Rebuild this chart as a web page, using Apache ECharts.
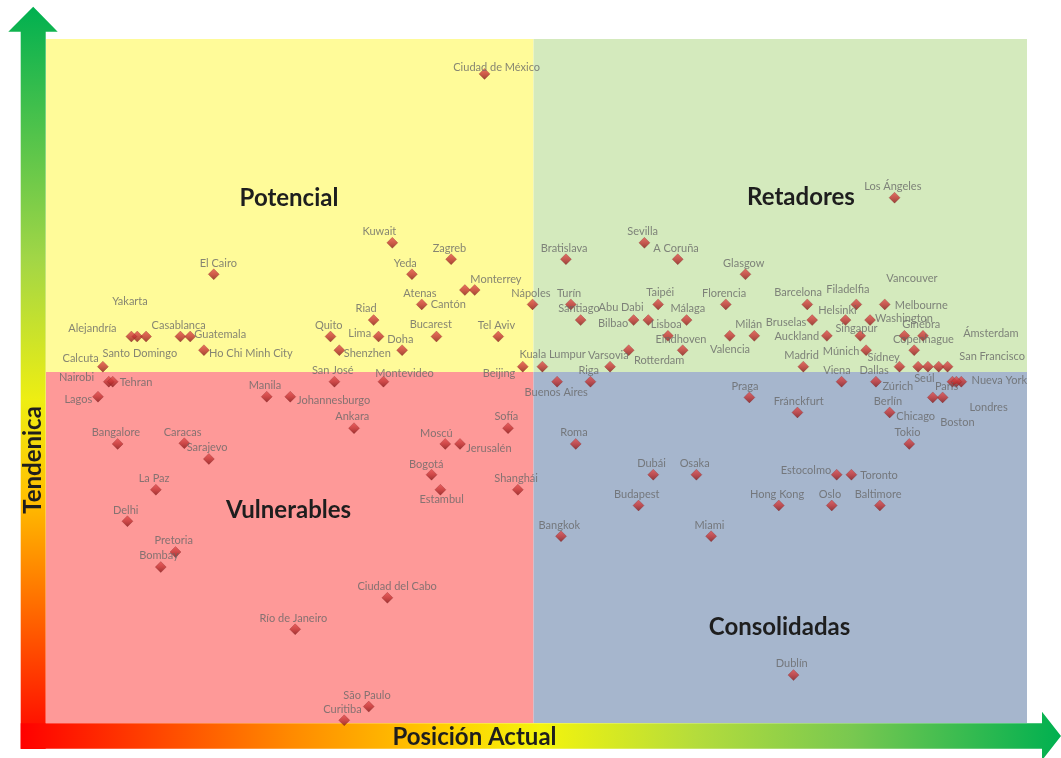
<!DOCTYPE html>
<html><head><meta charset="utf-8">
<script src="https://cdn.jsdelivr.net/npm/echarts/dist/echarts.min.js"></script>
<style>html,body{margin:0;padding:0;background:#fff}#c{width:1061px;height:758px}</style>
</head><body><div id="c"></div>
<script>
// ---------- DATA ----------
const cities = ['Ciudad de México','Kuwait','Zagreb','El Cairo','Yeda','Monterrey','Cantón','Atenas','Nápoles','Riad',
'Quito','Lima','Bucarest','Tel Aviv','Shenzhen','Doha','Beijing','Kuala Lumpur','Yakarta','Alejandría',
'Santo Domingo','Casablanca','Guatemala','Ho Chi Minh City','Calcuta','Nairobi','Tehran','Lagos','Manila','Johannesburgo',
'San José','Montevideo','Ankara','Sofía','Moscú','Jerusalén','Bogotá','Estambul','Shanghái','Bangalore',
'Caracas','Sarajevo','La Paz','Delhi','Pretoria','Bombay','Río de Janeiro','Ciudad del Cabo','São Paulo','Curitiba',
'Los Ángeles','Sevilla','Bratislava','A Coruña','Glasgow','Turín','Santiago','Bilbao','Abu Dabi','Taipéi',
'Málaga','Lisboa','Eindhoven','Rotterdam','Varsovia','Florencia','Milán','Valencia','Barcelona','Filadelfia',
'Bruselas','Helsinki','Washington','Auckland','Singapur','Múnich','Madrid','Melbourne','Vancouver','Ginebra',
'Copenhague','Ámsterdam','Sídney','San Francisco','Seúl','Viena','Dallas','Zúrich','Nueva York','París',
'Londres','Boston','Berlín','Chicago','Tokio','Praga','Fránckfurt','Roma','Dubái','Osaka',
'Budapest','Hong Kong','Bangkok','Miami','Dublín','Estocolmo','Toronto','Oslo','Baltimore','Buenos Aires','Riga'];

const posicionActual = [44.7,35.3,41.3,17.1,37.3,43.7,42.7,38.3,49.6,33.4,
29.0,33.9,39.8,46.1,29.9,36.3,48.6,50.6,9.3,8.7,
10.2,13.7,14.7,16.1,5.8,6.4,6.8,5.3,22.5,24.9,
29.4,34.4,31.4,47.1,40.7,42.2,39.3,40.2,48.1,7.3,
14.1,16.6,11.2,8.3,13.2,11.7,25.4,34.8,32.9,30.4,
86.5,61.0,53.0,64.4,71.3,53.5,54.5,59.9,61.4,62.4,
65.3,63.4,64.9,59.4,57.5,69.3,72.2,69.7,77.6,82.6,
78.1,81.5,84.0,79.6,83.0,83.6,77.2,85.5,87.5,89.4,
88.5,91.0,87.0,91.9,89.9,81.1,84.6,88.9,93.3,92.4,
92.8,91.4,86.0,90.4,88.0,71.7,76.6,54.0,61.9,66.3,
60.4,74.7,52.5,67.8,76.2,80.6,82.1,80.1,85.0,52.1,55.5];

const tendencia = [94.9,70.2,67.8,65.6,65.6,63.3,63.3,61.2,61.2,58.9,
56.5,56.5,56.5,56.5,54.5,54.5,52.1,52.1,56.5,56.5,
56.5,56.5,56.5,54.5,52.1,49.9,49.9,47.7,47.7,47.7,
49.9,49.9,43.1,43.1,40.8,40.8,36.3,34.1,34.1,40.8,
40.9,38.6,34.1,29.5,25.0,22.8,13.7,18.3,2.4,0.4,
76.8,70.2,67.8,67.8,65.6,61.2,58.9,58.9,58.9,61.2,
58.9,56.6,54.5,54.5,52.1,61.2,56.6,56.6,61.2,61.2,
58.9,58.9,58.9,56.6,56.6,54.5,52.1,61.2,56.6,56.6,
54.5,52.1,52.1,52.1,52.1,49.9,49.9,52.1,49.9,49.9,
49.9,47.6,45.4,47.6,40.8,47.6,45.4,40.8,36.3,36.3,
31.8,31.8,27.3,27.3,7.0,36.3,36.3,31.8,31.8,49.9,49.9];

const xSplit = 49.7, ySplit = 51.3;
const quadrantNames = ['Potencial','Retadores','Vulnerables','Consolidadas'];
const xTitle = 'Posición Actual';
const yTitle = 'Tendenica';

// ---------- STYLE ----------
const SYM = 11;
const DEF = [-1.5,-11];
const labelShift = {
'Ciudad de México':[12.4,-5.7],'Kuwait':[-12.7,-11],'El Cairo':[4.8,-11],'Yeda':[-6.4,-11],'Monterrey':[21.5,-10.7],
'Cantón':[-16.4,14.3],'Riad':[-7.3,-11],'Lima':[-18.6,-2.7],'Bucarest':[-5.4,-11.4],'Shenzhen':[28.2,3.6],
'Beijing':[-23.5,6.6],'Kuala Lumpur':[10.5,-12],'Yakarta':[-7,-35],'Alejandría':[-38.7,-7.4],'Santo Domingo':[-6,17.6],
'Guatemala':[30.3,-1.4],'Ho Chi Minh City':[47.2,3.6],'Calcuta':[-22,-7.7],'Nairobi':[-32,-4],'Tehran':[23.5,1],
'Lagos':[-19.4,2.7],'Johannesburgo':[43.6,4],'Montevideo':[21.3,-8],'Moscú':[-8.7,-10.7],'Jerusalén':[29.2,4.3],
'Bogotá':[-5,-10.4],'Estambul':[1.5,10],'Ciudad del Cabo':[10,-11],'Bilbao':[-20.2,3.7],'Abu Dabi':[-27,-12],
'Taipéi':[2.3,-11.7],'Málaga':[1.5,-11],'Rotterdam':[30.7,10.6],'Milán':[-5.3,-10.7],'Valencia':[0.5,14],
'Barcelona':[-8.9,-11.7],'Filadelfia':[-8.2,-14.7],'Bruselas':[-25.8,2.7],'Helsinki':[-7.8,-9.3],'Washington':[34.2,-1],
'Auckland':[-29.8,1.3],'Singapur':[-3.5,-6.7],'Múnich':[-24.8,1.3],'Melbourne':[36.8,1],'Vancouver':[7.8,-56.7],
'Copenhague':[9.5,-10.4],'Ámsterdam':[52.4,-32.7],'Sídney':[-15.6,-9.4],'San Francisco':[44.8,-10.4],'Seúl':[-3.3,12.3],
'Viena':[-4.4,-11.3],'Zúrich':[-20.1,20.3],'Nueva York':[38.3,-1.3],'París':[-5.6,5.4],'Londres':[32.5,26],
'Boston':[15.1,25.6],'Chicago':[-16.9,19.3],'Praga':[-4.2,-10.4],'Fránckfurt':[1.5,-10.7],'Estocolmo':[-30.5,-4],
'Toronto':[27.9,0.6],'Buenos Aires':[-0.7,10.7]
};

const G = {left:46, top:39, width:981, height:684};
const points = cities.map((n,i)=>{
  const s = labelShift[n] || DEF;
  return {
    name:n, value:[posicionActual[i], tendencia[i]],
    label:{position:[SYM/2 + s[0], SYM/2 + s[1]], align:'center', verticalAlign:'middle'}
  };
});

const vGrad = new echarts.graphic.LinearGradient(0,0,0,1,[
 {offset:0,color:'#00b050'},{offset:0.34,color:'#a2d646'},{offset:0.53,color:'#eeee12'},
 {offset:0.66,color:'#ffc000'},{offset:0.83,color:'#ff6000'},{offset:1,color:'#ff0000'}]);
const hGrad = new echarts.graphic.LinearGradient(0,0,1,0,[
 {offset:0,color:'#ff0000'},{offset:0.26,color:'#ff8a00'},{offset:0.41,color:'#ffd000'},
 {offset:0.5,color:'#f4f40c'},{offset:0.65,color:'#b4dc3c'},{offset:0.8,color:'#78c850'},{offset:1,color:'#00b050'}]);

const titleFont = {fontFamily:'Lato', fontWeight:'bold', fontSize:24, fill:'#1e1e1e'};

const chart = echarts.init(document.getElementById('c'), null, {renderer:'canvas'});
chart.setOption({
  animation:false,
  backgroundColor:'#ffffff',
  grid:G,
  xAxis:{type:'value', min:0, max:100, show:false, splitLine:{show:false}},
  yAxis:{type:'value', min:0, max:100, show:false, splitLine:{show:false}},
  graphic:[
    {type:'polygon', z:1, shape:{points:[[20.7,31.7],[8.3,31.7],[33.2,6.7],[57.7,31.7],[45.7,31.7],[45.7,749],[20.7,749]]}, style:{fill:vGrad}},
    {type:'polygon', z:2, shape:{points:[[20.7,723.3],[1042,723.3],[1042,711.7],[1061,736],[1042,760.3],[1042,748.7],[20.7,748.7]]}, style:{fill:hGrad}},
    {type:'text', z:5, x:33.5, y:460, rotation:Math.PI/2, style:Object.assign({text:yTitle, align:'center', verticalAlign:'middle'}, titleFont)},
    {type:'text', z:5, x:474.5, y:737, style:Object.assign({text:xTitle, align:'center', verticalAlign:'middle'}, titleFont)},
    {type:'text', z:5, x:289, y:198, style:Object.assign({text:quadrantNames[0], align:'center', verticalAlign:'middle'}, titleFont)},
    {type:'text', z:5, x:801, y:197, style:Object.assign({text:quadrantNames[1], align:'center', verticalAlign:'middle'}, titleFont)},
    {type:'text', z:5, x:288.5, y:510.5, style:Object.assign({text:quadrantNames[2], align:'center', verticalAlign:'middle'}, titleFont)},
    {type:'text', z:5, x:779.5, y:627.5, style:Object.assign({text:quadrantNames[3], align:'center', verticalAlign:'middle'}, titleFont)}
  ],
  series:[{
    type:'scatter',
    symbol:'diamond',
    symbolSize:SYM,
    itemStyle:{
      color:new echarts.graphic.LinearGradient(0,0,0,1,[{offset:0,color:'#e65050'},{offset:0.5,color:'#c23434'},{offset:1,color:'#861818'}]),
      borderColor:'rgba(110,20,20,0.6)', borderWidth:0.5
    },
    label:{show:true, formatter:'{b}', fontFamily:'Lato', fontSize:11, color:'#686868'},
    labelLayout:{hideOverlap:false},
    emphasis:{disabled:true},
    markArea:{silent:true, label:{show:false},
      data:[
        [{xAxis:0,yAxis:ySplit,itemStyle:{color:'#fffb99'}},{xAxis:xSplit,yAxis:100}],
        [{xAxis:xSplit,yAxis:ySplit,itemStyle:{color:'#d4eabd'}},{xAxis:100,yAxis:100}],
        [{xAxis:0,yAxis:0,itemStyle:{color:'#fe9998'}},{xAxis:xSplit,yAxis:ySplit}],
        [{xAxis:xSplit,yAxis:0,itemStyle:{color:'#a6b6cd'}},{xAxis:100,yAxis:ySplit}]
      ]},
    data:points
  }]
});
</script></body></html>
